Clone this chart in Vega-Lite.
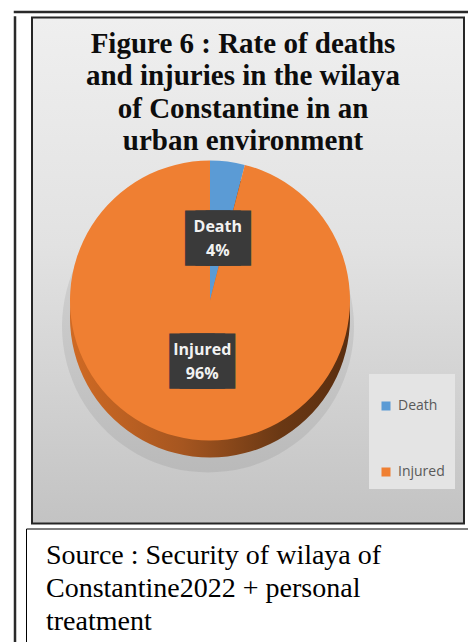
{
  "$schema": "https://vega.github.io/schema/vega-lite/v6.json",
  "background": "white",
  "padding": {"left": 13, "top": 10, "right": 0, "bottom": 0},
  "bounds": "flush",
  "center": false,
  "spacing": 4.5,
  "datasets": {
    "casualties": [
      {"category": "Death", "share": 0.04},
      {"category": "Injured", "share": 0.96}
    ]
  },
  "vconcat": [
    {
      "width": 460,
      "height": 0.01,
      "view": {"stroke": "#2a2a2a", "strokeWidth": 2.5, "fill": null},
      "data": {"values": []},
      "mark": "text"
    },
    {
      "bounds": "flush",
      "spacing": 10,
      "hconcat": [
        {
          "width": 0.01,
          "height": 640,
          "view": {"stroke": "#2a2a2a", "strokeWidth": 2.5, "fill": null},
          "data": {"values": []},
          "mark": "text"
        },
        {
          "bounds": "flush",
          "center": true,
          "spacing": 5,
          "vconcat": [
            {
              "width": 432,
              "height": 506,
              "view": {
                "stroke": "#262626",
                "strokeWidth": 2,
                "fill": {
                  "gradient": "linear",
                  "x1": 0, "y1": 0, "x2": 0, "y2": 1,
                  "stops": [
                    {"offset": 0, "color": "#efefef"},
                    {"offset": 0.45, "color": "#e2e2e2"},
                    {"offset": 1, "color": "#c3c3c3"}
                  ]
                }
              },
              "layer": [
                {
                  "data": {"values": [{}]},
                  "mark": {
                    "type": "text",
                    "text": [
                      "Figure 6 : Rate of deaths",
                      "and injuries in the wilaya",
                      "of Constantine in an",
                      "urban environment"
                    ],
                    "font": "Liberation Serif",
                    "fontSize": 29,
                    "fontWeight": "bold",
                    "fill": "#0d0d0d",
                    "lineHeight": 32.5,
                    "align": "center",
                    "baseline": "alphabetic",
                    "x": 211,
                    "y": 35
                  }
                },
                {
                  "data": {"name": "casualties"},
                  "encoding": {
                    "theta": {"field": "share", "type": "quantitative", "stack": true}
                  },
                  "layer": [
                    {
                      "mark": {"type": "arc", "radius": 146, "fill": "#000000", "fillOpacity": 0.07, "xOffset": -40, "yOffset": 56}
                    },
                    {
                      "mark": {
                        "type": "arc",
                        "radius": 140,
                        "xOffset": -38,
                        "yOffset": 47,
                        "fill": {
                          "gradient": "linear",
                          "x1": 0, "y1": 0, "x2": 1, "y2": 0,
                          "stops": [
                            {"offset": 0, "color": "#d06a24"},
                            {"offset": 0.4, "color": "#a65620"},
                            {"offset": 0.75, "color": "#6a3814"},
                            {"offset": 1, "color": "#5a2e10"}
                          ]
                        }
                      }
                    },
                    {
                      "mark": {"type": "arc", "radius": 140, "xOffset": -38, "yOffset": 30},
                      "encoding": {
                        "color": {
                          "field": "category",
                          "type": "nominal",
                          "scale": {"domain": ["Death", "Injured"], "range": ["#5B9BD5", "#EF7F32"]},
                          "legend": {
                            "orient": "none",
                            "legendX": 354,
                            "legendY": 362,
                            "direction": "vertical",
                            "title": " ",
                            "titleFontSize": 1,
                            "titlePadding": 14,
                            "padding": 10,
                            "fillColor": "#e4e4e4",
                            "symbolType": "square",
                            "symbolSize": 81,
                            "symbolStrokeWidth": 0,
                            "labelFont": "Open Sans",
                            "labelFontSize": 14,
                            "labelColor": "#595959",
                            "labelOffset": 5,
                            "rowPadding": 52
                          }
                        }
                      }
                    },
                    {
                      "mark": {
                        "type": "text",
                        "text": "███",
                        "font": "DejaVu Sans Mono",
                        "fontSize": 17,
                        "fill": "#3a3a3a",
                        "stroke": "#3a3a3a",
                        "strokeWidth": 35,
                        "strokeJoin": "miter",
                        "align": "center",
                        "baseline": "middle",
                        "radius": 62,
                        "xOffset": -38,
                        "yOffset": 30
                      }
                    },
                    {
                      "mark": {
                        "type": "text",
                        "font": "Open Sans",
                        "fontSize": 16,
                        "fontWeight": "bold",
                        "fill": "#f2f2f2",
                        "align": "center",
                        "baseline": "middle",
                        "radius": 62,
                        "xOffset": -38,
                        "yOffset": 30,
                        "dy": -11.7
                      },
                      "encoding": {"text": {"field": "category", "type": "nominal"}}
                    },
                    {
                      "mark": {
                        "type": "text",
                        "font": "Open Sans",
                        "fontSize": 16,
                        "fontWeight": "bold",
                        "fill": "#f2f2f2",
                        "align": "center",
                        "baseline": "middle",
                        "radius": 62,
                        "xOffset": -38,
                        "yOffset": 30,
                        "dy": 11.7
                      },
                      "encoding": {"text": {"field": "share", "type": "quantitative", "format": ".0%"}}
                    }
                  ]
                }
              ]
            },
            {
              "width": 444,
              "height": 120,
              "view": {"stroke": "#000000", "strokeWidth": 1, "fill": "white"},
              "data": {"values": [{}]},
              "mark": {
                "type": "text",
                "text": [
                  "Source : Security of wilaya of",
                  "Constantine2022 + personal",
                  "treatment"
                ],
                "font": "Liberation Serif",
                "fontSize": 28,
                "fill": "#000000",
                "lineHeight": 33,
                "align": "left",
                "baseline": "alphabetic",
                "x": 20,
                "y": 35
              }
            }
          ]
        }
      ]
    }
  ]
}
